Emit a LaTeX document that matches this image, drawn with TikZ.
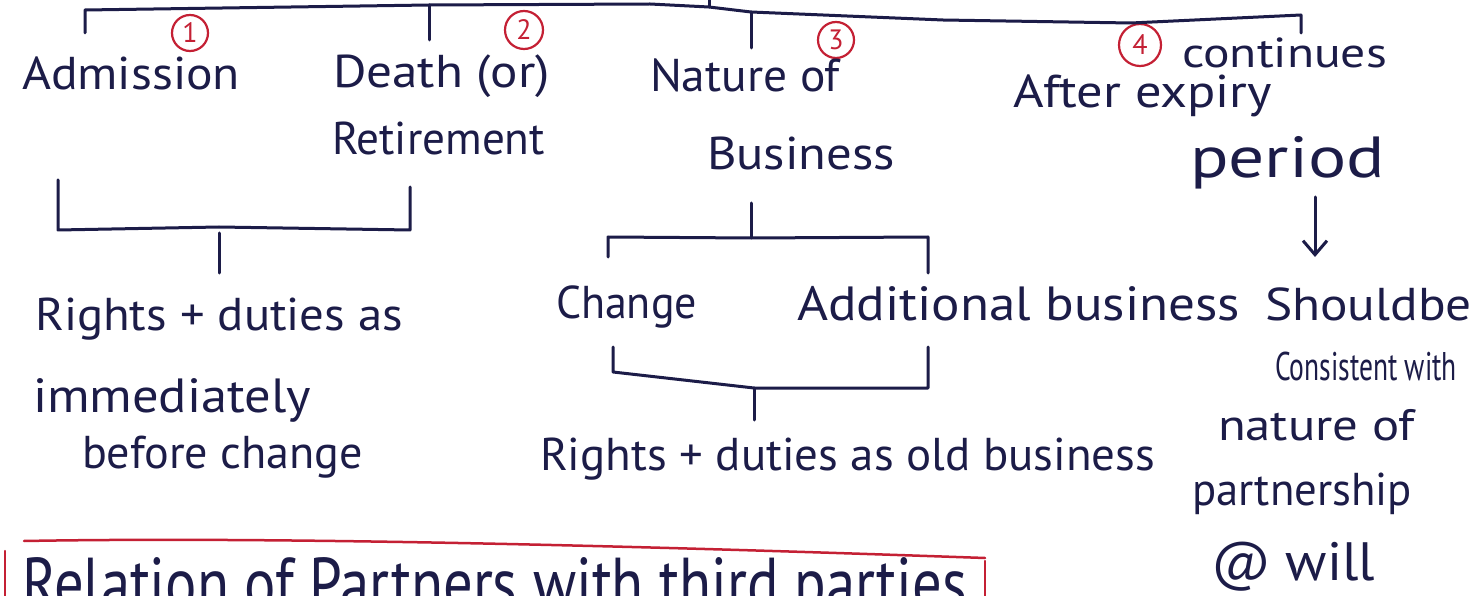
\documentclass[tikz,border=0pt]{standalone}
\usepackage{fontspec}
\setmainfont{PT Sans}
\usepackage{graphicx}
\usetikzlibrary{arrows.meta}
\definecolor{ink}{RGB}{28,28,72}
\definecolor{redink}{RGB}{196,32,52}
% fixed height, width fitted to the handwritten word
\newcommand\hwtext[3][44]{\resizebox{#2pt}{\height}{\fontsize{#1}{#1}\selectfont #3}}
\begin{document}
\begin{tikzpicture}[x=1pt,y=-1pt,
  txt/.style={anchor=base west,inner sep=0pt,outer sep=0pt,text=ink},
  numc/.style={circle,draw=redink,text=redink,line width=2.2pt,inner sep=0pt,
    minimum size=#1,font=\fontsize{28}{28}\selectfont},
  inkline/.style={draw=ink,line width=3pt,line cap=round,line join=round},
  redline/.style={draw=redink,line width=2.5pt,line cap=round}]
\useasboundingbox[fill=white] (0,0) rectangle (1478,596);

% circled numbers
\node[numc=36pt] (n1) at (190,33) {1};
\node[numc=38pt] (n2) at (524,30) {2};
\node[numc=36pt] (n3) at (836,40) {3};
\node[numc=42pt] (n4) at (1140,45) {4};

% first level
\node[txt] (adm) at (22,90) {\hwtext[46]{218}{Admission}};
\node[txt] (death) at (333,88) {\hwtext[46]{217}{Death (or)}};
\node[txt] (ret) at (332,155) {\hwtext[46]{213}{Retirement}};
\node[txt] (nat) at (650,92) {\hwtext[46]{190}{Nature of}};
\node[txt] (bus) at (707,170) {\hwtext[46]{188}{Business}};
\node[txt] (after) at (1013,108) {\hwtext[46]{259}{After expiry}};
\node[txt] (cont) at (1182,68) {\hwtext[42]{205}{continues}};
\node[txt] (per) at (1190,178) {\hwtext[58]{195}{period}};

% second level
\node[txt] (rd1) at (35,330) {\hwtext[46]{368}{Rights + duties as}};
\node[txt] (imm) at (33,412) {\hwtext[48]{278}{immediately}};
\node[txt] (bef) at (82,468) {\hwtext[46]{281}{before change}};
\node[txt] (chg) at (556,318) {\hwtext[46]{141}{Change}};
\node[txt] (add) at (797,320) {\hwtext[48]{443}{Additional business}};
\node[txt] (rd2) at (540,470) {\hwtext[46]{615}{Rights + duties as old business}};
\node[txt] (sh) at (1265,320) {\hwtext[46]{207}{Shouldbe}};
\node[txt] (cons) at (1275,380) {\hwtext[40]{182}{Consistent with}};
\node[txt] (natp) at (1218,440) {\hwtext[44]{197}{nature of}};
\node[txt] (part) at (1192,505) {\hwtext[46]{220}{partnership}};
\node[txt] (will) at (1211,580) {\hwtext[54]{164}{@ will}};
\node[txt] (rel) at (22,608) {\hwtext[72]{945}{Relation of Partners with third parties}};

% top bracket
\coordinate (top) at (709,0);
\coordinate (tA) at (85,10);
\coordinate (tB) at (429,5);
\coordinate (tC) at (709,7);
\coordinate (tD) at (751,12);
\coordinate (tE) at (1301,15);
\draw[inkline] (85,33) -- (tA) -- (tB) -- (650,4) -- (tC) -- (tD) -- (943,20) -- (1131,23) -- (tE) -- (1301,33);
\draw[inkline] (tC) -- (top);
\draw[inkline] (tB) -- (429,40);
\draw[inkline] (tD) -- (751,48);

% left bracket (admission / retirement)
\coordinate (lA) at (58,180);
\coordinate (lB) at (58,230);
\coordinate (lM) at (219,227);
\coordinate (lC) at (410,230);
\coordinate (lD) at (410,187);
\draw[inkline] (lA) -- (lB) -- (lM) -- (lC) -- (lD);
\draw[inkline] (219,233) -- (219,273);

% nature of business bracket
\coordinate (mS) at (751,203);
\coordinate (mM) at (751,238);
\draw[inkline] (mS) -- (mM);
\draw[inkline] (608,257) -- (608,237) -- (mM) -- (928,237) -- (928,273);

% lower bracket (change / additional)
\coordinate (bM) at (754,388);
\draw[inkline] (613,347) -- (613,372) -- (bM) -- (928,388) -- (928,347);
\draw[inkline] (bM) -- (754,420);

% arrow period -> should be
\coordinate (arA) at (1315,197);
\coordinate (arB) at (1315,257);
\draw[inkline,-{Straight Barb[length=14pt,width=24pt]}] (arA) -- (arB);

% red box
\draw[redline] (24,541) .. controls (300,536) and (700,548) .. (985,558);
\draw[redline] (5,551) -- (5,600);
\draw[redline] (985,561) -- (985,600);
\end{tikzpicture}
\end{document}
